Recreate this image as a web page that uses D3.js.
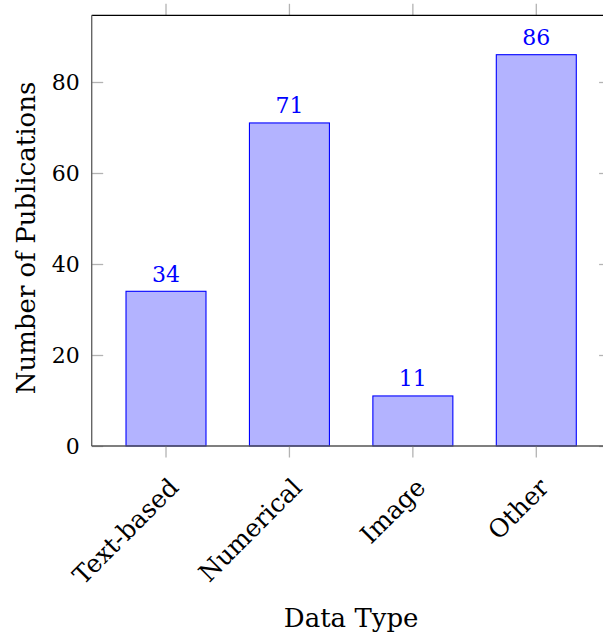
<!DOCTYPE html>
<html>
<head>
<meta charset="utf-8">
<script src="https://cdn.jsdelivr.net/npm/d3@7"></script>
<style>
  html, body { margin: 0; padding: 0; background: #fff; }
  svg { display: block; }
  text { font-family: "DejaVu Serif", "Liberation Serif", serif; }
</style>
</head>
<body>
<svg id="chart" width="603" height="634"></svg>
<script>
const categories = ["Text-based", "Numerical", "Image", "Other"];
const values = [34, 71, 11, 86];
const yTicks = [0, 20, 40, 60, 80];
const xLabel = "Data Type";
const yLabel = "Number of Publications";

(function () {
const pL = 91.7, pR = 610.6, pT = 15.3, pB = 446;

const svg = d3.select("#chart");

const x = d3.scaleBand()
  .domain(categories)
  .range([pL, pR])
  .paddingInner(0.352)
  .paddingOuter(0.278);

const y = d3.scaleLinear().domain([0, 94.66]).range([pB, pT]);

const tickColor = "#b3b3b3";
const tickLen = 11.5;

// bars
svg.append("g").selectAll("rect")
  .data(values)
  .join("rect")
  .attr("x", (d, i) => x(categories[i]))
  .attr("y", d => y(d))
  .attr("width", x.bandwidth())
  .attr("height", d => y(0) - y(d))
  .attr("fill", "#b3b3ff")
  .attr("stroke", "#0000ff")
  .attr("stroke-width", 1.1);

// bottom axis (ticks outward)
const gB = svg.append("g").attr("transform", `translate(0,${pB})`)
  .call(d3.axisBottom(x).tickSize(tickLen).tickSizeOuter(0).tickFormat(""));
gB.select(".domain").remove();
gB.selectAll(".tick line").attr("stroke", tickColor).attr("stroke-width", 1.3);

// top axis ticks (outward)
const gT = svg.append("g").attr("transform", `translate(0,${pT})`)
  .call(d3.axisTop(x).tickSize(tickLen).tickSizeOuter(0).tickFormat(""));
gT.select(".domain").remove();
gT.selectAll(".tick line").attr("stroke", tickColor).attr("stroke-width", 1.3);

// left axis (ticks inward)
const gL = svg.append("g").attr("transform", `translate(${pL},0)`)
  .call(d3.axisLeft(y).tickValues(yTicks).tickSize(-tickLen).tickSizeOuter(0).tickPadding(12));
gL.select(".domain").remove();
gL.selectAll(".tick line").attr("stroke", tickColor).attr("stroke-width", 1.3);
gL.selectAll(".tick text")
  .attr("font-size", 22)
  .attr("fill", "#000")
  .attr("font-family", "DejaVu Serif, Liberation Serif, serif");

// right axis ticks (inward)
const gR = svg.append("g").attr("transform", `translate(${pR},0)`)
  .call(d3.axisRight(y).tickValues(yTicks).tickSize(-tickLen).tickSizeOuter(0).tickFormat(""));
gR.select(".domain").remove();
gR.selectAll(".tick line").attr("stroke", tickColor).attr("stroke-width", 1.3);

// axis frame lines
svg.append("line").attr("x1", pL).attr("x2", pR).attr("y1", pT).attr("y2", pT)
  .attr("stroke", "#000").attr("stroke-width", 1.2);
svg.append("line").attr("x1", pL).attr("x2", pL).attr("y1", pT).attr("y2", pB)
  .attr("stroke", "#666").attr("stroke-width", 1.4);
svg.append("line").attr("x1", pL).attr("x2", pR).attr("y1", pB).attr("y2", pB)
  .attr("stroke", "#555").attr("stroke-width", 1.4);

// value labels
svg.append("g").selectAll("text")
  .data(values)
  .join("text")
  .attr("x", (d, i) => x(categories[i]) + x.bandwidth() / 2)
  .attr("y", d => y(d) - 9.5)
  .attr("text-anchor", "middle")
  .attr("font-size", 22)
  .attr("fill", "#0000ff")
  .text(d => d);

// rotated category labels
svg.append("g").selectAll("text")
  .data(categories)
  .join("text")
  .attr("transform", d => `translate(${x(d) + x.bandwidth() / 2 + 14},${pB + 43}) rotate(-45)`)
  .attr("text-anchor", "end")
  .attr("font-size", 25)
  .attr("fill", "#000")
  .text(d => d);

// axis titles
svg.append("text")
  .attr("x", (pL + pR) / 2)
  .attr("y", 627)
  .attr("text-anchor", "middle")
  .attr("font-size", 26)
  .attr("fill", "#000")
  .text(xLabel);

svg.append("text")
  .attr("transform", `translate(35,238) rotate(-90)`)
  .attr("text-anchor", "middle")
  .attr("font-size", 26)
  .attr("fill", "#000")
  .text(yLabel);
})();
</script>
</body>
</html>
